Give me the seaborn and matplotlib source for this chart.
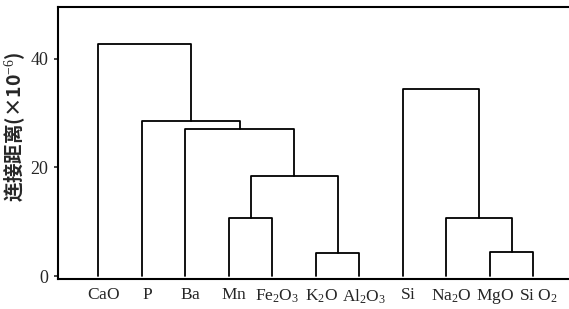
import numpy as np
import pandas as pd
import matplotlib
matplotlib.use("Agg")
import matplotlib.pyplot as plt
import seaborn as sns

# ---- data ----
leaves = ["CaO", "P", "Ba", "Mn", "Fe2O3", "K2O", "Al2O3", "Si", "Na2O", "MgO", "SiO2"]
leaf_labels = [r"$\mathrm{CaO}$", r"$\mathrm{P}$", r"$\mathrm{Ba}$", r"$\mathrm{Mn}$",
               r"$\mathrm{Fe_2O_3}$", r"$\mathrm{K_2O}$", r"$\mathrm{Al_2O_3}$",
               r"$\mathrm{Si}$", r"$\mathrm{Na_2O}$", r"$\mathrm{MgO}$", r"$\mathrm{Si\ O_2}$"]
# merges: (child_a, child_b) -> new node id = 11, 12, ...
merge_a = [3, 5, 11, 2, 1, 0, 9, 8, 7]
merge_b = [4, 6, 12, 13, 14, 15, 10, 17, 18]
merge_h = [10.7, 4.3, 18.4, 27.0, 28.6, 42.7, 4.5, 10.8, 34.5]
y_ticks = [0, 20, 40]

# ---- build link segments ----
pos = {i: float(i) for i in range(len(leaves))}
hgt = {i: 0.0 for i in range(len(leaves))}
rows = []
for k, (a, b, h) in enumerate(zip(merge_a, merge_b, merge_h)):
    node = len(leaves) + k
    xs = [pos[a], pos[a], pos[b], pos[b]]
    ys = [hgt[a], h, h, hgt[b]]
    for order, (x, y) in enumerate(zip(xs, ys)):
        rows.append({"link": k, "order": order, "x": x, "y": y})
    pos[node] = (pos[a] + pos[b]) / 2
    hgt[node] = h
df = pd.DataFrame(rows)

sns.set_style("white")
plt.rcParams["font.family"] = ["Liberation Serif", "DejaVu Serif"]
plt.rcParams["mathtext.fontset"] = "custom"
plt.rcParams["mathtext.rm"] = "Liberation Serif"
plt.rcParams["mathtext.it"] = "Liberation Serif:italic"

fig = plt.figure(figsize=(5.69, 3.09), dpi=100)
ax = fig.add_axes([58 / 569, 1 - 279 / 309, (569 - 58) / 569 + 0.01, 272 / 309])

sns.lineplot(data=df, x="x", y="y", units="link", estimator=None, sort=False,
             color="black", linewidth=1.3, ax=ax, legend=False)

ax.set_xlim(-0.926, 10.95)
ax.set_ylim(-0.5, 49.5)
ax.set_xticks(np.arange(len(leaves)) + 0.12)
ax.set_xticklabels(leaf_labels, fontsize=12.5)
ax.set_yticks(y_ticks)
ax.set_yticklabels([str(t) for t in y_ticks], fontsize=13)
ax.tick_params(axis="x", length=0, pad=6)
ax.tick_params(axis="y", length=3, width=1.2, direction="out", pad=4, left=True)
ax.set_xlabel("")
ax.set_ylabel("连接距离(×10$^{-6}$)", fontsize=14, fontweight="bold",
              family=["Noto Sans CJK SC", "DejaVu Sans"])
ax.yaxis.set_label_coords(-0.060, 0.56)

for s in ["left", "bottom", "top"]:
    ax.spines[s].set_visible(True)
    ax.spines[s].set_color("black")
    ax.spines[s].set_linewidth(1.5)
ax.spines["right"].set_visible(False)

fig.savefig("out.png", dpi=100)
